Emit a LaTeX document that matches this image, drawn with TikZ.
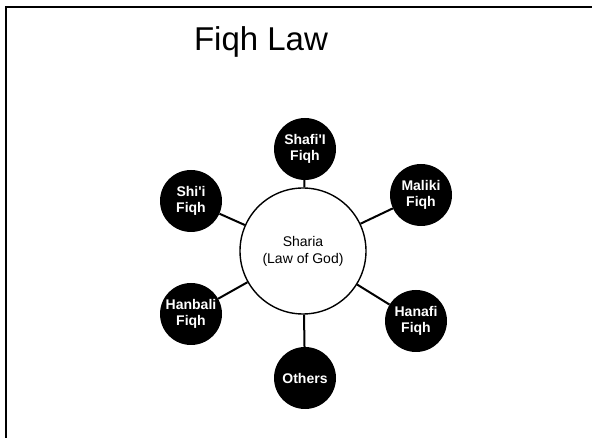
\documentclass[tikz,border=0pt]{standalone}
\usepackage{fontspec}
\setmainfont{Liberation Sans}
\tikzset{
  fiqh/.style={circle, fill=black, minimum size=62pt, inner sep=0pt, text=white,
    font=\bfseries\fontsize{14}{15.5}\selectfont, align=center},
  sharia/.style={circle, draw=black, line width=1.4pt, fill=white, minimum size=126pt,
    inner sep=0pt, font=\fontsize{14}{17}\selectfont, align=center},
  link/.style={line width=2pt}
}

\begin{document}
\begin{tikzpicture}[x=1pt,y=-1pt]
		%%%%% START %%%%%
		\useasboundingbox (0,0) rectangle (592,438);
		
		\draw[line width=2pt] (6,438) -- (6,7) -- (592,7);
		
		\node[font=\fontsize{33}{38}\selectfont] (title) at (261, 42) {Fiqh Law};
		
		\node[sharia] (sharia) at (303, 251) {Sharia\\(Law of God)};
		
		\node[fiqh] (shafii) at (305, 149) {Shafi\textquotesingle I\\Fiqh};
		\node[fiqh] (maliki) at (421, 195) {Maliki\\Fiqh};
		\node[fiqh] (hanafi) at (416, 321) {Hanafi\\Fiqh};
		\node[fiqh] (others) at (305, 378) {Others};
		\node[fiqh] (hanbali) at (191, 314) {Hanbali\\Fiqh};
		\node[fiqh] (shii) at (191, 201) {Shi\textquotesingle i\\Fiqh};
		
		\draw[link] (shafii) -- (sharia);
		\draw[link] (maliki) -- (sharia);
		\draw[link] (hanafi) -- (sharia);
		\draw[link] (others) -- (sharia);
		\draw[link] (hanbali) -- (sharia);
		\draw[link] (shii) -- (sharia);
		
		%%%%% END %%%%%
	\end{tikzpicture}
\end{document}
